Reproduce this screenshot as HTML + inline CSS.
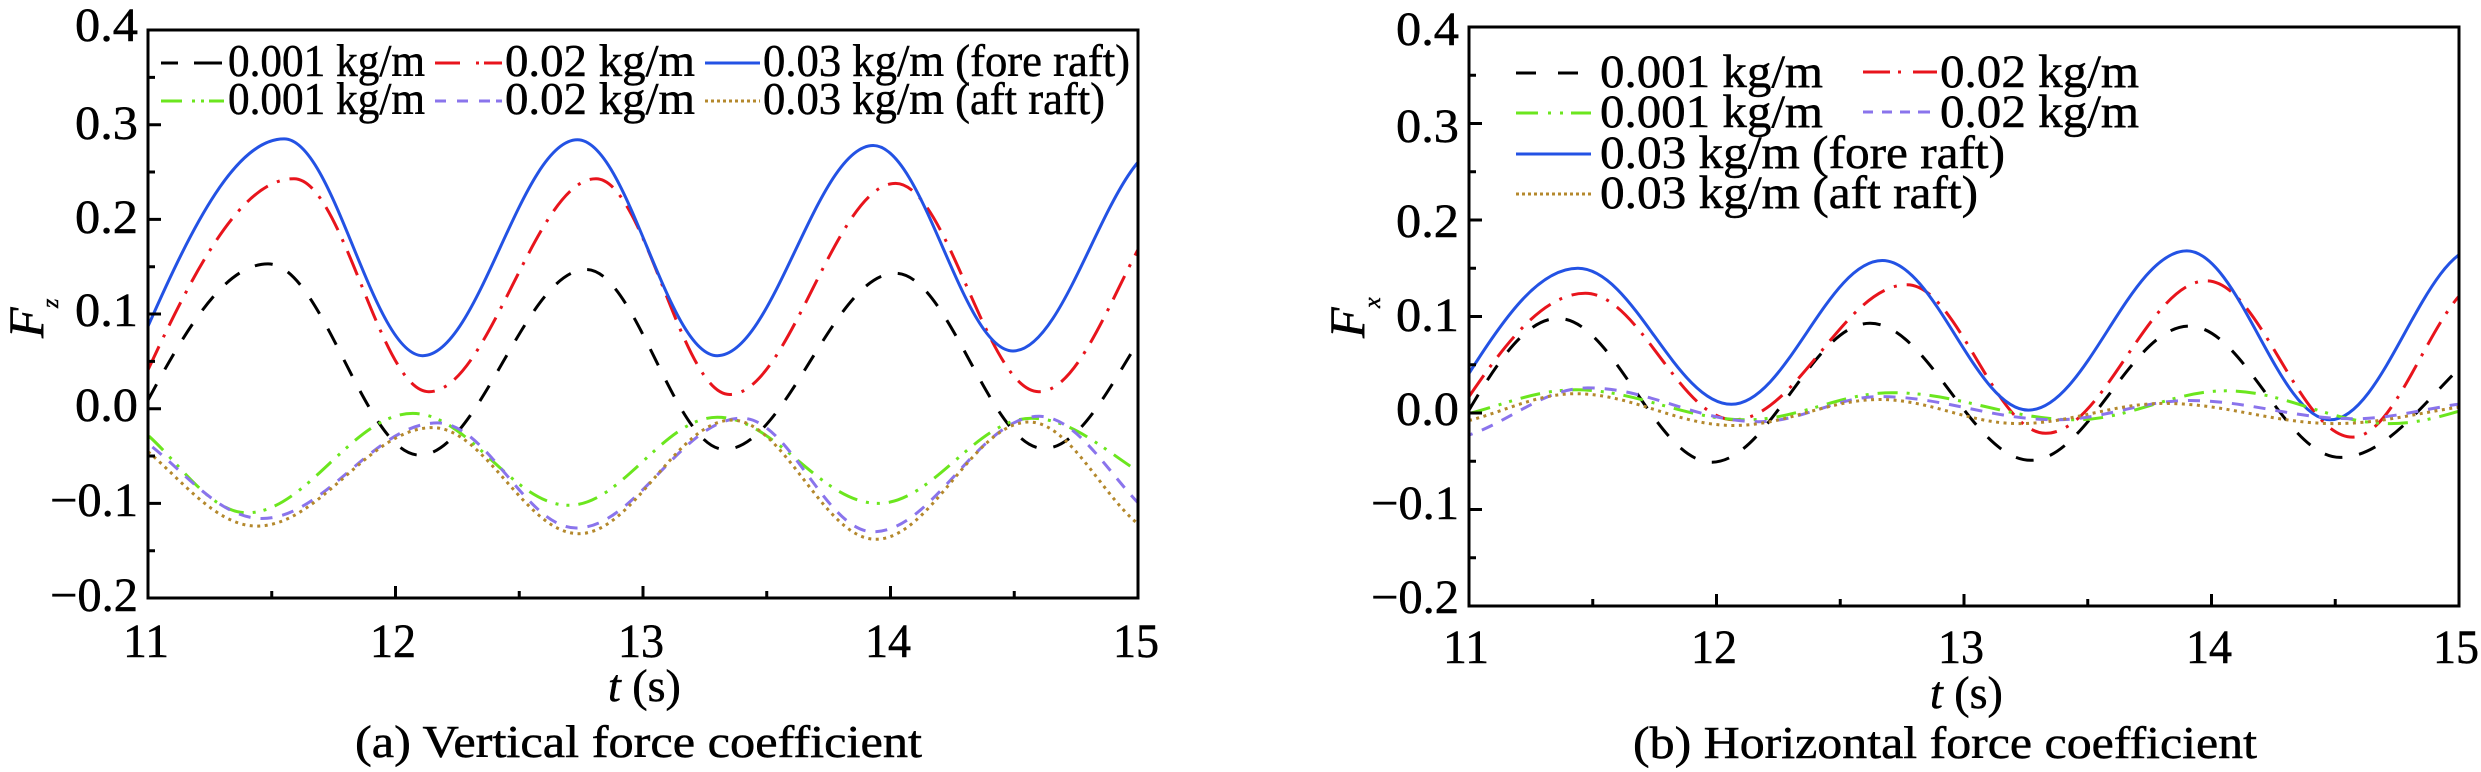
<!DOCTYPE html>
<html>
<head>
<meta charset="utf-8">
<style>
html,body{margin:0;padding:0;background:#fff;overflow:hidden;}
svg{display:block;}
text{font-family:"Liberation Serif","Times New Roman",serif;fill:#000;stroke:#000;stroke-width:0.5;}
</style>
</head>
<body>
<svg width="2481" height="772" viewBox="0 0 2481 772" xmlns="http://www.w3.org/2000/svg">
<defs>
<clipPath id="cl"><rect x="148" y="31" width="990" height="567"/></clipPath>
<clipPath id="cr"><rect x="1469" y="27" width="990" height="579"/></clipPath>
</defs>
<rect width="2481" height="772" fill="#fff"/>

<!-- ===== LEFT PLOT SERIES ===== -->
<g clip-path="url(#cl)" fill="none" stroke-width="3">
<path stroke="#000" stroke-dasharray="18 17" d="M148,400.2 C188,325.2 226,263.9 268,263.9 C322.5,263.9 365.0,455.1 419.5,455.1 C479.5,455.1 526.1,269.5 586.1,269.5 C636.0,269.5 674.8,449.4 724.7,449.4 C786.2,449.4 834.0,273.3 895.5,273.3 C949.0,273.3 990.5,448.5 1044.0,448.5 C1102.8,448.5 1148.5,276.2 1207.3,276.2"/>
<path stroke="#e8141c" stroke-dasharray="26 10 3 10" d="M148,369.9 C196.7,264.7 242.9,178.7 294.0,178.7 C342.6,178.7 380.3,391.7 428.9,391.7 C489.1,391.7 535.8,178.7 596.0,178.7 C644.1,178.7 681.5,394.5 729.6,394.5 C789.3,394.5 835.8,183.4 895.5,183.4 C947.2,183.4 987.3,391.7 1039,391.7 C1096.9,391.7 1142.0,181.5 1199.9,181.5"/>
<path stroke="#2352e4" d="M148,326.3 C193.4,223.2 236.5,138.9 284.1,138.9 C334.0,138.9 372.8,355.7 422.7,355.7 C478.4,355.7 521.7,139.8 577.4,139.8 C627.8,139.8 666.9,355.7 717.3,355.7 C773.4,355.7 817.1,145.5 873.2,145.5 C923.5,145.5 962.7,351.0 1013.0,351.0 C1068.7,351.0 1112.0,143.6 1167.7,143.6"/>
<path stroke="#6be61e" stroke-dasharray="20 9 3 8 3 9" d="M103.5,413.4 C155.2,413.4 195.3,512.8 247,512.8 C306.7,512.8 353.1,413.4 412.8,413.4 C469.0,413.4 512.6,505.3 568.8,505.3 C622.3,505.3 663.8,417.2 717.3,417.2 C775.2,417.2 820.2,503.4 878.1,503.4 C933.4,503.4 976.3,418.2 1031.6,418.2 C1092.2,418.2 1139.3,493.9 1199.9,493.9"/>
<path stroke="#8a74ec" stroke-dasharray="12 10" d="M93.6,420.1 C154.2,420.1 201.3,518.5 261.9,518.5 C325.2,518.5 374.3,422.9 437.6,422.9 C487.5,422.9 526.3,528.0 576.2,528.0 C635.9,528.0 682.3,418.2 742.0,418.2 C789.2,418.2 826.0,531.8 873.2,531.8 C932.9,531.8 979.3,416.3 1039.0,416.3 C1092.5,416.3 1134.0,531.8 1187.5,531.8"/>
<path stroke="#b4882c" stroke-dasharray="3 4.5" d="M88.6,422.9 C149.2,422.9 196.3,526.1 256.9,526.1 C320.2,526.1 369.3,427.6 432.6,427.6 C485.2,427.6 526.1,533.7 578.7,533.7 C633.9,533.7 676.9,420.1 732.1,420.1 C783.8,420.1 824.0,539.3 875.7,539.3 C930.9,539.3 973.9,422.0 1029.1,422.0 C1079.0,422.0 1117.8,536.5 1167.7,536.5"/>
</g>

<!-- ===== RIGHT PLOT SERIES ===== -->
<g clip-path="url(#cr)" fill="none" stroke-width="3">
<path stroke="#000" stroke-dasharray="18 17" d="M1469,410.1 C1498.7,359.7 1526.9,318.4 1558.1,318.4 C1613.4,318.4 1656.3,462.2 1711.6,462.2 C1768.6,462.2 1813.0,323.3 1870.0,323.3 C1927.9,323.3 1972.9,460.3 2030.8,460.3 C2087.8,460.3 2132.2,326.1 2189.2,326.1 C2243.6,326.1 2285.8,457.4 2340.2,457.4 C2409.7,457.4 2463.8,326.1 2533.3,326.1"/>
<path stroke="#e8141c" stroke-dasharray="26 10 3 10" d="M1469,396.6 C1507.8,339.8 1544.6,293.3 1585.3,293.3 C1638.8,293.3 1680.3,419.8 1733.8,419.8 C1796.2,419.8 1844.7,284.7 1907.1,284.7 C1957.0,284.7 1995.8,433.3 2045.7,433.3 C2103.6,433.3 2148.7,280.8 2206.6,280.8 C2259.2,280.8 2300.0,437.1 2352.6,437.1 C2401.6,437.1 2439.7,277.9 2488.7,277.9"/>
<path stroke="#2352e4" d="M1469,373.4 C1505.3,315.6 1539.8,268.3 1577.9,268.3 C1633.2,268.3 1676.1,404.3 1731.4,404.3 C1785.7,404.3 1828.0,260.5 1882.3,260.5 C1934.9,260.5 1975.8,410.1 2028.4,410.1 C2085.4,410.1 2129.8,250.9 2186.8,250.9 C2238.5,250.9 2278.6,419.8 2330.3,419.8 C2383.8,419.8 2425.3,247.0 2478.8,247.0"/>
<path stroke="#6be61e" stroke-dasharray="20 9 3 8 3 9" d="M1419.5,420.7 C1475.6,420.7 1519.3,389.8 1575.4,389.8 C1636.9,389.8 1684.7,419.8 1746.2,419.8 C1798.8,419.8 1839.6,392.7 1892.2,392.7 C1958.2,392.7 2009.4,419.8 2075.4,419.8 C2129.8,419.8 2172.0,390.8 2226.4,390.8 C2285.2,390.8 2330.9,423.6 2389.7,423.6 C2445.8,423.6 2489.5,393.7 2545.6,393.7"/>
<path stroke="#8a74ec" stroke-dasharray="12 10" d="M1439.3,440.0 C1492.8,440.0 1534.3,387.9 1587.8,387.9 C1649.3,387.9 1697.1,421.7 1758.6,421.7 C1802.3,421.7 1836.2,396.6 1879.9,396.6 C1943.2,396.6 1992.3,419.8 2055.6,419.8 C2103.7,419.8 2141.1,400.5 2189.2,400.5 C2248.0,400.5 2293.8,418.8 2352.6,418.8 C2404.3,418.8 2444.4,401.4 2496.1,401.4"/>
<path stroke="#b4882c" stroke-dasharray="3 4.5" d="M1431.9,425.5 C1483.6,425.5 1523.7,393.7 1575.4,393.7 C1632.4,393.7 1676.8,425.5 1733.8,425.5 C1786.4,425.5 1827.3,399.5 1879.9,399.5 C1929.8,399.5 1968.6,423.6 2018.5,423.6 C2071.1,423.6 2111.9,403.4 2164.5,403.4 C2226.0,403.4 2273.8,423.6 2335.3,423.6 C2397.3,423.6 2445.5,403.4 2507.5,403.4"/>
</g>

<!-- ===== FRAMES & TICKS ===== -->
<g fill="none" stroke="#000" stroke-width="3">
<rect x="148" y="30" width="990" height="568"/>
<path d="M148 124.7h13M148 219.4h13M148 314h13M148 408.7h13M148 503.4h13"/>
<path d="M148 77.4h7M148 172h7M148 266.7h7M148 361.4h7M148 456h7M148 550.7h7"/>
<path d="M395.5 598v-12M643 598v-12M890.5 598v-12"/>
<path d="M271.75 598v-7M519.25 598v-7M766.75 598v-7M1014.25 598v-7"/>

<rect x="1469" y="27" width="990" height="579"/>
<path d="M1469 123.5h13M1469 220h13M1469 316.5h13M1469 413h13M1469 509.5h13"/>
<path d="M1469 75.25h7M1469 171.75h7M1469 268.25h7M1469 364.75h7M1469 461.25h7M1469 557.75h7"/>
<path d="M1716.5 606v-12M1964 606v-12M2211.5 606v-12"/>
<path d="M1592.75 606v-7M1840.25 606v-7M2087.75 606v-7M2335.25 606v-7"/>
</g>

<!-- ===== LEFT TICK LABELS ===== -->
<g font-size="48">
<text x="75" y="41" textLength="63" lengthAdjust="spacingAndGlyphs">0.4</text>
<text x="75" y="139" textLength="63" lengthAdjust="spacingAndGlyphs">0.3</text>
<text x="75" y="233" textLength="63" lengthAdjust="spacingAndGlyphs">0.2</text>
<text x="75" y="326" textLength="63" lengthAdjust="spacingAndGlyphs">0.1</text>
<text x="75" y="421" textLength="63" lengthAdjust="spacingAndGlyphs">0.0</text>
<text x="50" y="516" textLength="88" lengthAdjust="spacingAndGlyphs">−0.1</text>
<text x="50" y="611" textLength="88" lengthAdjust="spacingAndGlyphs">−0.2</text>
</g>
<g font-size="48">
<text x="123" y="657" textLength="46" lengthAdjust="spacingAndGlyphs">11</text>
<text x="370" y="657" textLength="46" lengthAdjust="spacingAndGlyphs">12</text>
<text x="618" y="657" textLength="46" lengthAdjust="spacingAndGlyphs">13</text>
<text x="865" y="657" textLength="46" lengthAdjust="spacingAndGlyphs">14</text>
<text x="1113" y="657" textLength="46" lengthAdjust="spacingAndGlyphs">15</text>
</g>

<!-- ===== RIGHT TICK LABELS ===== -->
<g font-size="48">
<text x="1396" y="45" textLength="63" lengthAdjust="spacingAndGlyphs">0.4</text>
<text x="1396" y="142" textLength="63" lengthAdjust="spacingAndGlyphs">0.3</text>
<text x="1396" y="237" textLength="63" lengthAdjust="spacingAndGlyphs">0.2</text>
<text x="1396" y="331" textLength="63" lengthAdjust="spacingAndGlyphs">0.1</text>
<text x="1396" y="425" textLength="63" lengthAdjust="spacingAndGlyphs">0.0</text>
<text x="1371" y="519" textLength="88" lengthAdjust="spacingAndGlyphs">−0.1</text>
<text x="1371" y="613" textLength="88" lengthAdjust="spacingAndGlyphs">−0.2</text>
</g>
<g font-size="48">
<text x="1443" y="663" textLength="46" lengthAdjust="spacingAndGlyphs">11</text>
<text x="1691" y="663" textLength="46" lengthAdjust="spacingAndGlyphs">12</text>
<text x="1938" y="663" textLength="46" lengthAdjust="spacingAndGlyphs">13</text>
<text x="2186" y="663" textLength="46" lengthAdjust="spacingAndGlyphs">14</text>
<text x="2433" y="663" textLength="46" lengthAdjust="spacingAndGlyphs">15</text>
</g>

<!-- ===== AXIS TITLES ===== -->
<text x="608" y="701" font-size="46"><tspan font-style="italic">t</tspan> (s)</text>
<text x="1930" y="708" font-size="46"><tspan font-style="italic">t</tspan> (s)</text>

<text transform="translate(43,338) rotate(-90)" font-size="50" font-style="italic">F</text>
<text transform="translate(58,308) rotate(-90)" font-size="24" font-style="italic">z</text>
<text transform="translate(1364,338) rotate(-90)" font-size="50" font-style="italic">F</text>
<text transform="translate(1380,308) rotate(-90)" font-size="24" font-style="italic">x</text>

<!-- ===== CAPTIONS ===== -->
<text x="355" y="757" font-size="46" textLength="567" lengthAdjust="spacingAndGlyphs">(a) Vertical force coefficient</text>
<text x="1633" y="758" font-size="46" textLength="624" lengthAdjust="spacingAndGlyphs">(b) Horizontal force coefficient</text>

<!-- ===== LEFT LEGEND ===== -->
<g fill="none" stroke-width="3">
<path stroke="#000" d="M161 63h17M194 63h28"/>
<path stroke="#e8141c" d="M435 63h25M476 63h3M484 63h18"/>
<path stroke="#2352e4" d="M705 63h55"/>
<path stroke="#6be61e" d="M161 101h21M192 101h3M201 101h3M209 101h15"/>
<path stroke="#8a74ec" d="M435 101h11M457 101h11M479 101h11M496 101h6"/>
<path stroke="#b4882c" stroke-dasharray="3 3" d="M705 101h55"/>
</g>
<g font-size="46">
<text x="228" y="76" textLength="197" lengthAdjust="spacingAndGlyphs">0.001 kg/m</text>
<text x="505" y="76" textLength="190" lengthAdjust="spacingAndGlyphs">0.02 kg/m</text>
<text x="763" y="76" textLength="367" lengthAdjust="spacingAndGlyphs">0.03 kg/m (fore raft)</text>
<text x="228" y="114" textLength="197" lengthAdjust="spacingAndGlyphs">0.001 kg/m</text>
<text x="505" y="114" textLength="190" lengthAdjust="spacingAndGlyphs">0.02 kg/m</text>
<text x="763" y="114" textLength="342" lengthAdjust="spacingAndGlyphs">0.03 kg/m (aft raft)</text>
</g>

<!-- ===== RIGHT LEGEND ===== -->
<g fill="none" stroke-width="3">
<path stroke="#000" d="M1516 73h20M1558 73h20"/>
<path stroke="#6be61e" d="M1516 113h22M1548 113h3M1560 113h3M1571 113h20"/>
<path stroke="#2352e4" d="M1516 154h75"/>
<path stroke="#b4882c" stroke-dasharray="3 3" d="M1516 194h75"/>
<path stroke="#e8141c" d="M1863 72h27M1898 72h3M1913 72h24"/>
<path stroke="#8a74ec" d="M1863 112h10M1882 112h10M1900 112h10M1918 112h12"/>
</g>
<g font-size="47">
<text x="1600" y="87" textLength="223" lengthAdjust="spacingAndGlyphs">0.001 kg/m</text>
<text x="1940" y="87" textLength="199" lengthAdjust="spacingAndGlyphs">0.02 kg/m</text>
<text x="1600" y="127" textLength="223" lengthAdjust="spacingAndGlyphs">0.001 kg/m</text>
<text x="1940" y="127" textLength="199" lengthAdjust="spacingAndGlyphs">0.02 kg/m</text>
<text x="1600" y="168" textLength="405" lengthAdjust="spacingAndGlyphs">0.03 kg/m (fore raft)</text>
<text x="1600" y="208" textLength="378" lengthAdjust="spacingAndGlyphs">0.03 kg/m (aft raft)</text>
</g>
</svg>
</body>
</html>
